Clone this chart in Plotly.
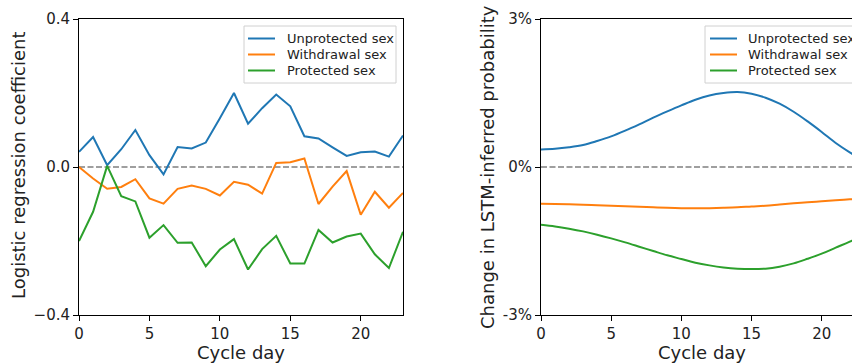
import plotly.graph_objects as go

W, H = 852, 363

days = list(range(24))

# Left panel: logistic regression coefficients
lr_unprotected = [0.041, 0.081, 0.005, 0.048, 0.100, 0.032, -0.020, 0.054, 0.050, 0.066,
                  0.132, 0.200, 0.117, 0.159, 0.196, 0.164, 0.083, 0.077, 0.053, 0.030,
                  0.040, 0.042, 0.028, 0.085]
lr_withdrawal = [0.000, -0.031, -0.059, -0.054, -0.033, -0.085, -0.099, -0.059, -0.050, -0.059,
                 -0.077, -0.040, -0.048, -0.072, 0.011, 0.013, 0.023, -0.100, -0.053, -0.011,
                 -0.129, -0.067, -0.110, -0.070]
lr_protected = [-0.200, -0.121, 0.003, -0.079, -0.093, -0.191, -0.157, -0.205, -0.204, -0.268,
                -0.223, -0.195, -0.277, -0.222, -0.186, -0.261, -0.261, -0.170, -0.204, -0.188,
                -0.180, -0.236, -0.273, -0.175]

# Right panel: change in LSTM-inferred probability (%)
lstm_unprotected = [0.357, 0.37, 0.40, 0.446, 0.527, 0.62, 0.736, 0.864, 1.0, 1.127,
                    1.249, 1.364, 1.45, 1.50, 1.52, 1.486, 1.405, 1.283, 1.12, 0.924,
                    0.71, 0.486, 0.297, 0.13]
lstm_withdrawal = [-0.744, -0.75, -0.757, -0.765, -0.775, -0.784, -0.795, -0.807, -0.818, -0.828,
                   -0.835, -0.838, -0.835, -0.828, -0.818, -0.80, -0.784, -0.76, -0.737, -0.716,
                   -0.696, -0.676, -0.656, -0.64]
lstm_protected = [-1.17, -1.204, -1.25, -1.305, -1.372, -1.447, -1.528, -1.615, -1.703, -1.79,
                  -1.865, -1.94, -1.994, -2.035, -2.06, -2.068, -2.06, -2.02, -1.954, -1.86,
                  -1.757, -1.635, -1.514, -1.38]

series_names = ["Unprotected sex", "Withdrawal sex", "Protected sex"]
colors = ["#1f77b4", "#ff7f0e", "#2ca02c"]

x_ticks = [0, 5, 10, 15, 20]
left_yticks = [-0.4, 0.0, 0.4]
left_yticktext = ["\u22120.4", "0.0", "0.4"]
right_yticks = [-3, 0, 3]
right_yticktext = ["-3%", "0%", "3%"]

FONT = "DejaVu Sans"
TXT = "#222222"

fig = go.Figure()

for name, vals, c in zip(series_names, [lr_unprotected, lr_withdrawal, lr_protected], colors):
    fig.add_trace(go.Scatter(x=days, y=vals, mode="lines", name=name,
                             line=dict(color=c, width=2), xaxis="x", yaxis="y",
                             showlegend=False))
for name, vals, c in zip(series_names, [lstm_unprotected, lstm_withdrawal, lstm_protected], colors):
    fig.add_trace(go.Scatter(x=days, y=vals, mode="lines", name=name,
                             line=dict(color=c, width=2, shape="spline"), xaxis="x2", yaxis="y2",
                             showlegend=False))

def px_x(p):
    return p / W

def px_y(p):
    return 1 - p / H

ydom = [px_y(315), px_y(19)]

axis_common = dict(showgrid=False, zeroline=False, showline=True, linecolor="black",
                   linewidth=1, ticks="outside", ticklen=5, tickcolor="black",
                   tickfont=dict(family=FONT, size=15, color=TXT))

fig.update_layout(
    width=W, height=H,
    margin=dict(l=0, r=0, t=0, b=0, autoexpand=False),
    paper_bgcolor="white", plot_bgcolor="white",
    font=dict(family=FONT, color=TXT),
    showlegend=False,
    xaxis=dict(domain=[px_x(79), px_x(403)], range=[0, 23], tickvals=x_ticks,
               mirror=True, anchor="y", **axis_common),
    yaxis=dict(domain=ydom, range=[-0.4, 0.4], tickvals=left_yticks,
               ticktext=left_yticktext, mirror=True, anchor="x", **axis_common),
    xaxis2=dict(domain=[px_x(541), 1.0], range=[0, 22.16], tickvals=x_ticks,
                mirror=True, anchor="y2", **axis_common),
    yaxis2=dict(domain=ydom, range=[-3, 3], tickvals=right_yticks,
                ticktext=right_yticktext, mirror=False, anchor="x2", **axis_common),
)

dash_line = dict(color="#808080", width=1.5, dash="6px,2.5px")
fig.add_shape(type="line", xref="x domain", yref="y", x0=0, x1=1, y0=0, y1=0,
              line=dash_line, layer="below")
fig.add_shape(type="line", xref="x2 domain", yref="y2", x0=0, x1=1, y0=0, y1=0,
              line=dash_line, layer="below")

# Custom legends (matplotlib-like compact spacing)
legend_specs = [
    dict(box=(244, 396, 26, 83), line=(248, 275), tx=285, rows=(38.5, 54.5, 70.5)),
    dict(box=(705, 870, 26, 83), line=(710, 737), tx=746, rows=(38.5, 54.5, 70.5)),
]
for spec in legend_specs:
    bx0, bx1, by0, by1 = spec["box"]
    fig.add_shape(type="rect", xref="paper", yref="paper",
                  x0=px_x(bx0), x1=px_x(bx1), y0=px_y(by1), y1=px_y(by0),
                  line=dict(color="#d0d0d0", width=1), fillcolor="rgba(255,255,255,0.85)",
                  layer="above")
    lx0, lx1 = spec["line"]
    for name, c, ry in zip(series_names, colors, spec["rows"]):
        fig.add_shape(type="line", xref="paper", yref="paper",
                      x0=px_x(lx0), x1=px_x(lx1), y0=px_y(ry), y1=px_y(ry),
                      line=dict(color=c, width=2), layer="above")
        fig.add_annotation(text=name, x=px_x(spec["tx"]), y=px_y(ry), xref="paper",
                           yref="paper", showarrow=False, xanchor="left", yanchor="middle",
                           font=dict(family=FONT, size=13, color=TXT))

ann_font = dict(family=FONT, size=18, color=TXT)
fig.add_annotation(text="Logistic regression coefficient", x=px_x(18), y=px_y(165),
                   xref="paper", yref="paper", textangle=-90, showarrow=False,
                   xanchor="center", yanchor="middle", font=ann_font)
fig.add_annotation(text="Change in LSTM-inferred probability", x=px_x(487), y=px_y(167),
                   xref="paper", yref="paper", textangle=-90, showarrow=False,
                   xanchor="center", yanchor="middle", font=ann_font)
fig.add_annotation(text="Cycle day", x=px_x(241), y=px_y(352), xref="paper", yref="paper",
                   showarrow=False, xanchor="center", yanchor="middle", font=ann_font)
fig.add_annotation(text="Cycle day", x=px_x(702), y=px_y(352), xref="paper", yref="paper",
                   showarrow=False, xanchor="center", yanchor="middle", font=ann_font)

fig.write_html("out.html", config={"displayModeBar": False},
               post_script="document.body.style.margin='0';")
